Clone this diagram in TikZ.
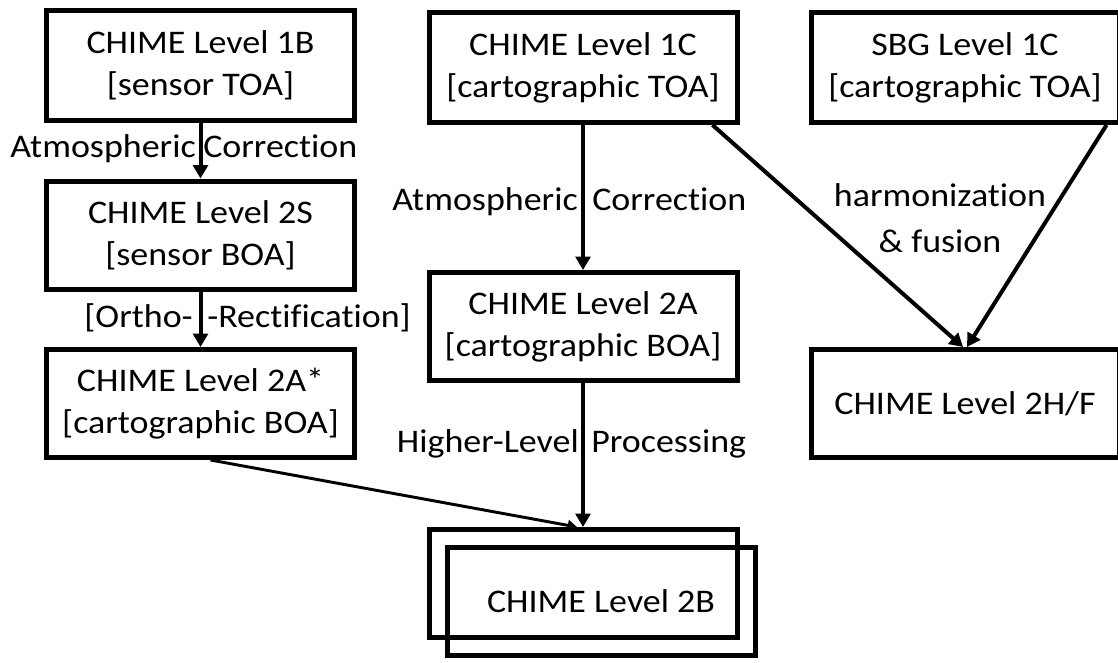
\documentclass[tikz,border=0pt]{standalone}
\usepackage{fontspec}
\setmainfont[FakeStretch=1.09, Ligatures=NoCommon]{Carlito}
\usetikzlibrary{arrows.meta}
\newcommand\fs{\fontsize{24.75}{31.5}\selectfont}
\begin{document}
\begin{tikzpicture}[x=0.75pt,y=-0.75pt,
  box/.style={draw, line width=3.75pt, minimum width=231pt, minimum height=81pt,
    align=center, inner sep=0pt, font=\fs},
  topbox/.style={box, minimum height=82.5pt},
  arr/.style={line width=3pt, -{Triangle[width=11pt,length=10pt]}},
  thinarr/.style={line width=2.2pt, -{Triangle[width=8pt,length=7pt]}},
  lbl/.style={inner sep=0pt, font=\fs}]
\fill[white] (0,0) rectangle (1118,662);
\useasboundingbox (0,0) rectangle (1118,662);
\clip (0,0) rectangle (1118,662);

% boxes
\node[topbox] (b1)  at (200.5,65)  {CHIME Level 1B\\{[}sensor TOA{]}};
\node[box]    (s2)  at (200.5,235) {CHIME Level 2S\\{[}sensor BOA{]}};
\node[box]    (astar) at (200.5,403.5) {CHIME Level 2A*\\{[}cartographic BOA{]}};
\node[topbox] (c1)  at (583,67.5)  {CHIME Level 1C\\{[}cartographic TOA{]}};
\node[box]    (a2)  at (583,326.5) {CHIME Level 2A\\{[}cartographic BOA{]}};
\node[box]    (b2back) at (583,583.5) {};
\node[box]    (b2)  at (601,601)   {CHIME Level 2B};
\node[topbox] (sbg) at (965,67.5)  {SBG Level 1C\\{[}cartographic TOA{]}};
\node[box]    (hf)  at (965,403.5) {CHIME Level 2H/F};

% connectors
\draw[arr] (b1.south) -- (s2.north);
\draw[arr] (s2.south) -- (astar.north);
\draw[arr] (c1.south) -- (a2.north);
\draw[arr] (a2.south) -- (b2back.north);
\draw[thinarr] ([xshift=7.5pt]astar.south) -- ([xshift=-4.5pt]b2back.north);
\draw[arr] ([xshift=-20.25pt]c1.south east) -- ([xshift=-1.5pt]hf.north);
\draw[arr] ([xshift=-11.25pt]sbg.south east) -- ([xshift=1.5pt]hf.north);

% labels
\node[lbl, anchor=base east] (l1a) at (196,157) {Atmospheric};
\node[lbl, anchor=base west] (l1b) at (203,157) {Correction};
\node[lbl, anchor=base east] (l2a) at (193,327) {{[}Ortho-};
\node[lbl, anchor=base west] (l2b) at (207,327) {-Rectification{]}};
\node[lbl, anchor=base east] (l3a) at (578,210) {Atmospheric};
\node[lbl, anchor=base west] (l3b) at (592,210) {Correction};
\node[lbl, anchor=base east] (l4a) at (579,452) {Higher-Level};
\node[lbl, anchor=base west] (l4b) at (591,452) {Processing};
\node[lbl, align=center] (l5) at (940,218.5) {harmonization\\[3pt]\& fusion};
\end{tikzpicture}
\end{document}
